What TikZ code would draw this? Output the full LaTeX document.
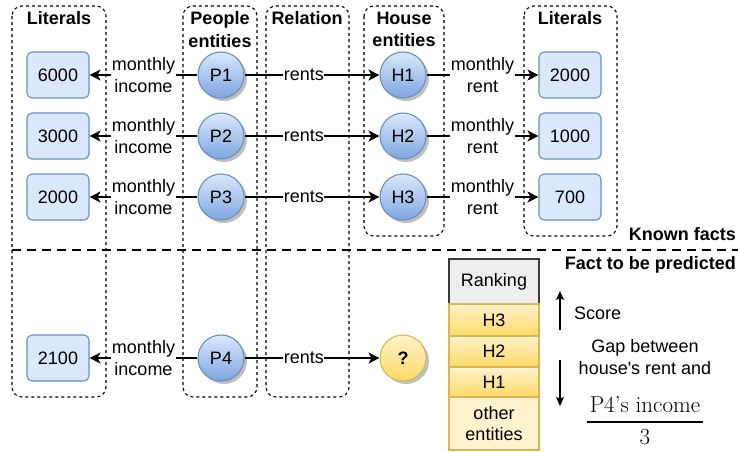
\documentclass[tikz,border=0pt]{standalone}
\usepackage{fontspec}
\newfontfamily\arialf{Liberation Sans}
\usetikzlibrary{arrows.meta,shadows}
\definecolor{bfill}{HTML}{DAE8FC}
\definecolor{bstroke}{HTML}{6C8EBF}
\definecolor{bdark}{HTML}{7EA6E0}
\definecolor{yfill}{HTML}{FFF2CC}
\definecolor{ydark}{HTML}{FFD966}
\definecolor{ystroke}{HTML}{D6B656}
\definecolor{gfill}{HTML}{EEEEEE}
\definecolor{gstroke}{HTML}{36393D}
\begin{document}
\begin{tikzpicture}[x=1pt,y=-1pt,
  every node/.style={font=\arialf\fontsize{18}{21.6}\selectfont, inner sep=1pt},
  grp/.style={draw, dash pattern=on 3pt off 3pt, line width=1.1pt, rounded corners=10pt},
  title/.style={font=\arialf\bfseries\fontsize{18}{22.5}\selectfont, align=center},
  lit/.style={draw=bstroke, fill=bfill, rounded corners=5pt, minimum width=62pt, minimum height=46pt, line width=1.1pt},
  ent/.style={circle, draw=bstroke, top color=bfill, bottom color=bdark, minimum size=46pt, inner sep=0pt, line width=1.1pt,
     drop shadow={shadow xshift=3pt, shadow yshift=-3pt, fill=black, opacity=0.25}},
  unk/.style={ent, draw=ystroke, top color=yfill, bottom color=ydark, font=\arialf\bfseries\fontsize{18}{21.6}\selectfont},
  arr/.style={line width=1.4pt, -{Stealth[length=11pt, width=11pt, inset=3pt]}},
  lbl/.style={fill=white, align=center, inner sep=0.5pt},
  cell/.style={draw=ystroke, line width=1.1pt, minimum width=90pt, top color=yfill, bottom color=ydark, inner sep=0pt},
]
\path[use as bounding box] (0,0) rectangle (738,451);

% group boxes
\draw[grp] (12,6) rectangle (106,397);
\draw[grp] (183,6) rectangle (257,397);
\draw[grp] (266,6) rectangle (349,397);
\draw[grp] (364,6) rectangle (444,236);
\draw[grp] (524,6) rectangle (617,236);

% titles
\node[title] (tl1) at (59,18) {Literals};
\node[title] (tpe) at (220,29.5) {People\\entities};
\node[title] (trel) at (307,18) {Relation};
\node[title] (the) at (404,29.5) {House\\entities};
\node[title] (tl2) at (570,18) {Literals};

% literal nodes
\node[lit] (L1) at (58,75) {6000};
\node[lit] (L2) at (58,136) {3000};
\node[lit] (L3) at (58,197) {2000};
\node[lit] (L4) at (58,358) {2100};
\node[lit] (R1) at (570,75) {2000};
\node[lit] (R2) at (570,136) {1000};
\node[lit] (R3) at (570,197) {700};

% entities
\node[ent] (P1) at (221,75) {P1};
\node[ent] (P2) at (221,136) {P2};
\node[ent] (P3) at (221,197) {P3};
\node[ent] (P4) at (221,358) {P4};
\node[ent] (H1) at (403,75) {H1};
\node[ent] (H2) at (403,136) {H2};
\node[ent] (H3) at (403,197) {H3};
\node[unk] (Q) at (403,358) {?};

% edges
\foreach \i in {1,2,3,4}{
  \draw[arr] (P\i) -- (L\i) node[midway, lbl] {monthly\\income};
  }
\draw[arr] (P1) -- (H1) node[pos=0.44, lbl] {rents};
\draw[arr] (P2) -- (H2) node[pos=0.44, lbl] {rents};
\draw[arr] (P3) -- (H3) node[pos=0.44, lbl] {rents};
\draw[arr] (P4) -- (Q) node[pos=0.44, lbl] {rents};
\foreach \i in {1,2,3}{
  \draw[arr] (H\i) -- (R\i) node[midway, lbl] {monthly\\rent};
  }

% separator
\draw[line width=2.6pt, dash pattern=on 9pt off 6pt] (12,250) -- (738,250);
\node[title, anchor=east] (kf) at (737,234) {Known facts};
\node[title, anchor=east] (fp) at (737,265) {Fact to be predicted};

% ranking stack
\node[draw=gstroke, fill=gfill, line width=1.1pt, minimum width=90pt, minimum height=45pt, inner sep=0pt] (rk) at (494,281.5) {Ranking};
\node[cell, minimum height=32pt] (c3) at (494,320) {H3};
\node[cell, minimum height=31pt] (c2) at (494,351.5) {H2};
\node[cell, minimum height=30pt] (c1) at (494,382) {H1};
\node[draw=ystroke, fill=yfill, line width=1.1pt, minimum width=90pt, minimum height=53pt, inner sep=0pt, align=center] (co) at (494,423.5) {other\\entities};

% score arrows
\coordinate (ua) at (560,330);
\coordinate (ub) at (560,291);
\coordinate (da) at (560,360);
\coordinate (db) at (560,406);
\draw[line width=1.2pt, -{Stealth[length=9pt, width=8pt, inset=2pt]}] (ua) -- (ub);
\draw[line width=1.2pt, -{Stealth[length=9pt, width=8pt, inset=2pt]}] (da) -- (db);
\node[anchor=west] (score) at (573,313) {Score};
\node[align=center] (gap) at (645,357) {Gap between\\house's rent and};

% fraction
\node[font=\fontsize{23}{27}\selectfont] (num) at (645,405) {P4’s income};
\coordinate (fa) at (587,422);
\coordinate (fb) at (703,422);
\draw[line width=1.4pt] (fa) -- (fb);
\node[font=\fontsize{23}{27}\selectfont] (den) at (645,437) {3};
\end{tikzpicture}
\end{document}
